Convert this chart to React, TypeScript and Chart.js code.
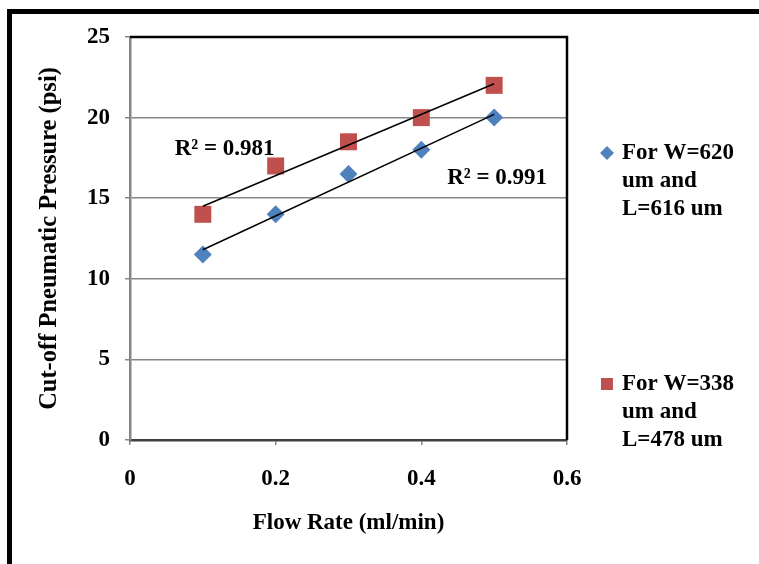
import React, { useEffect, useRef } from "react";
import { Chart, registerables } from "chart.js";

Chart.register(...registerables);

// Flow rate (ml/min) and cut-off pneumatic pressure (psi) for the two channel geometries
const flowRates = [0.1, 0.2, 0.3, 0.4, 0.5];
const pressureW620 = [11.5, 14, 16.5, 18, 20];
const pressureW338 = [14, 17, 18.5, 20, 22];

const seriesW620Label = ["For W=620", "um and", "L=616 um"];
const seriesW338Label = ["For W=338", "um and", "L=478 um"];

const xTitle = "Flow Rate (ml/min)";
const yTitle = "Cut-off Pneumatic Pressure (psi)";

const BLUE = "#4F81BD";
const RED = "#C0504D";
const FONT = "'Liberation Serif', 'Times New Roman', serif";

// least-squares fit y = a + b x, with coefficient of determination
function linearFit(xs: number[], ys: number[]) {
  const n = xs.length;
  const mx = xs.reduce((s, v) => s + v, 0) / n;
  const my = ys.reduce((s, v) => s + v, 0) / n;
  let sxy = 0;
  let sxx = 0;
  xs.forEach((x, i) => {
    sxy += (x - mx) * (ys[i] - my);
    sxx += (x - mx) * (x - mx);
  });
  const b = sxy / sxx;
  const a = my - b * mx;
  let ssRes = 0;
  let ssTot = 0;
  xs.forEach((x, i) => {
    const p = a + b * x;
    ssRes += (ys[i] - p) ** 2;
    ssTot += (ys[i] - my) ** 2;
  });
  return { a, b, r2: 1 - ssRes / ssTot };
}

const fitW620 = linearFit(flowRates, pressureW620);
const fitW338 = linearFit(flowRates, pressureW338);

const trend = (fit: { a: number; b: number }) => {
  const x0 = flowRates[0];
  const x1 = flowRates[flowRates.length - 1];
  return [
    { x: x0, y: fit.a + fit.b * x0 },
    { x: x1, y: fit.a + fit.b * x1 },
  ];
};

// outer frame, R² captions and the side legend
const decorations = {
  id: "decorations",
  beforeDraw(chart: any) {
    const ctx = chart.ctx;
    ctx.save();
    ctx.fillStyle = "#000";
    ctx.fillRect(7, 9, chart.width - 7, 5);
    ctx.fillRect(7, 9, 5, chart.height - 9);
    ctx.restore();
  },
  afterDraw(chart: any) {
    const ctx = chart.ctx;
    const { left, top, right, bottom } = chart.chartArea;
    const xs = chart.scales.x;
    const ys = chart.scales.y;
    ctx.save();
    // plot area frame
    ctx.strokeStyle = "#000";
    ctx.lineWidth = 2.5;
    ctx.beginPath();
    ctx.moveTo(left, top);
    ctx.lineTo(right, top);
    ctx.lineTo(right, bottom);
    ctx.stroke();

    ctx.fillStyle = "#000";
    ctx.font = `bold 23px ${FONT}`;
    ctx.textBaseline = "middle";
    ctx.textAlign = "center";
    ctx.fillText(`R² = ${fitW338.r2.toFixed(3)}`, xs.getPixelForValue(0.13), ys.getPixelForValue(18.05));
    ctx.fillText(`R² = ${fitW620.r2.toFixed(3)}`, xs.getPixelForValue(0.504), ys.getPixelForValue(16.25));

    // legend
    const drawEntry = (lines: string[], y0: number, kind: "diamond" | "square") => {
      const mx = 607;
      ctx.fillStyle = kind === "diamond" ? BLUE : RED;
      ctx.beginPath();
      if (kind === "diamond") {
        ctx.moveTo(mx, y0 - 7);
        ctx.lineTo(mx + 7, y0);
        ctx.lineTo(mx, y0 + 7);
        ctx.lineTo(mx - 7, y0);
        ctx.closePath();
      } else {
        ctx.rect(mx - 6, y0 - 6, 12, 12);
      }
      ctx.fill();
      ctx.fillStyle = "#000";
      ctx.textAlign = "left";
      lines.forEach((t, i) => ctx.fillText(t, 622, y0 + i * 28));
    };
    drawEntry(seriesW620Label, 153, "diamond");
    drawEntry(seriesW338Label, 384, "square");
    ctx.restore();
  },
};

export default function App() {
  const canvasRef = useRef<HTMLCanvasElement | null>(null);

  useEffect(() => {
    if (!canvasRef.current) return;
    const tickFont = { family: FONT, size: 23, weight: "bold" as const };
    const xTitleFont = { family: FONT, size: 23, weight: "bold" as const };
    const yTitleFont = { family: FONT, size: 24.5, weight: "bold" as const };
    const chart = new Chart(canvasRef.current, {
      type: "scatter",
      data: {
        datasets: [
          {
            type: "line",
            label: "trend W=338",
            data: trend(fitW338),
            borderColor: "#000",
            borderWidth: 1.5,
            pointRadius: 0,
            fill: false,
          },
          {
            type: "line",
            label: "trend W=620",
            data: trend(fitW620),
            borderColor: "#000",
            borderWidth: 1.5,
            pointRadius: 0,
            fill: false,
          },
          {
            label: seriesW620Label.join(" "),
            data: flowRates.map((x, i) => ({ x, y: pressureW620[i] })),
            pointStyle: "rectRot",
            pointRadius: 9,
            backgroundColor: BLUE,
            borderColor: BLUE,
            borderWidth: 0,
          },
          {
            label: seriesW338Label.join(" "),
            data: flowRates.map((x, i) => ({ x, y: pressureW338[i] })),
            pointStyle: "rect",
            pointRadius: 12,
            backgroundColor: RED,
            borderColor: RED,
            borderWidth: 0,
          },
        ],
      },
      options: {
        animation: false,
        responsive: false,
        layout: { padding: { top: 37, right: 192, left: 0, bottom: 0 } },
        plugins: { legend: { display: false }, tooltip: { enabled: false } },
        scales: {
          x: {
            type: "linear",
            min: 0,
            max: 0.6,
            ticks: { stepSize: 0.2, font: tickFont, color: "#000", padding: 20 },
            grid: { drawOnChartArea: false, drawTicks: true, tickLength: 5, color: "#868686", lineWidth: 1.5 },
            border: { color: "#404040", width: 2.5 },
            title: { display: true, text: xTitle, font: xTitleFont, color: "#000", padding: { bottom: 27 } },
            afterFit(scale: any) {
              scale.height = 124;
            },
          },
          y: {
            type: "linear",
            min: 0,
            max: 25,
            ticks: { stepSize: 5, font: tickFont, color: "#000", padding: 15 },
            grid: { color: "#868686", lineWidth: 1.5, tickLength: 5 },
            border: { color: "#868686", width: 2.5 },
            title: { display: true, text: yTitle, font: yTitleFont, color: "#000", padding: { top: 35 } },
            afterFit(scale: any) {
              scale.width = 130;
            },
          },
        },
      },
      plugins: [decorations],
    });
    return () => chart.destroy();
  }, []);

  return (
    <div style={{ position: "fixed", left: 0, top: 0, width: 759, height: 564, background: "#fff" }}>
      <canvas ref={canvasRef} width={759} height={564} style={{ display: "block" }} />
    </div>
  );
}
